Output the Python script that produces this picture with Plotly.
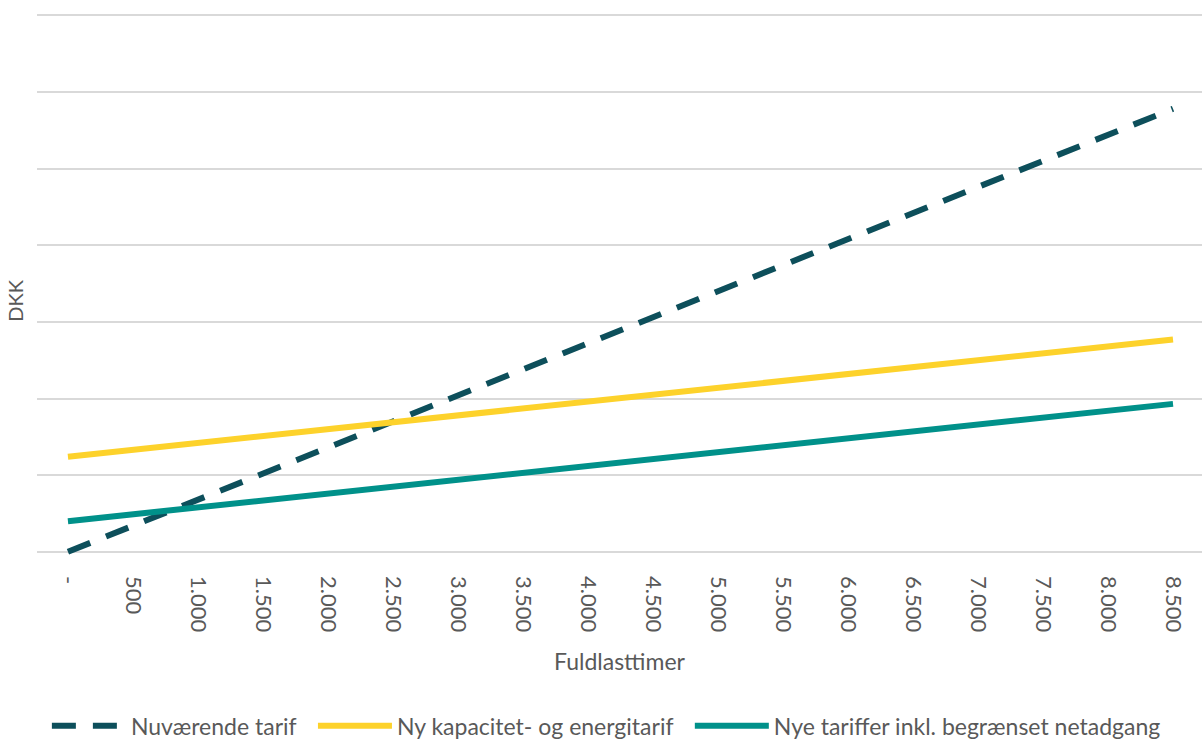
import plotly.graph_objects as go

hours = [0, 500, 1000, 1500, 2000, 2500, 3000, 3500, 4000, 4500,
         5000, 5500, 6000, 6500, 7000, 7500, 8000, 8500]
tick_labels = ["-", "500", "1.000", "1.500", "2.000", "2.500", "3.000", "3.500", "4.000",
               "4.500", "5.000", "5.500", "6.000", "6.500", "7.000", "7.500", "8.000", "8.500"]

nuvaerende = [0.00, 0.34, 0.68, 1.02, 1.36, 1.70, 2.04, 2.38, 2.72, 3.06,
              3.40, 3.74, 4.08, 4.42, 4.76, 5.10, 5.44, 5.78]
ny_kapacitet = [1.24, 1.33, 1.42, 1.51, 1.60, 1.69, 1.78, 1.87, 1.96, 2.05,
                2.14, 2.23, 2.32, 2.41, 2.50, 2.59, 2.68, 2.77]
nye_tariffer = [0.40, 0.49, 0.58, 0.67, 0.76, 0.85, 0.94, 1.03, 1.12, 1.21,
                1.30, 1.39, 1.48, 1.57, 1.66, 1.75, 1.84, 1.93]

series_names = ["Nuværende tarif", "Ny kapacitet- og energitarif",
                "Nye tariffer inkl. begrænset netadgang"]

FONT = "Lato"
GREY = "#595959"
FS = 23
PAD = "\u00a0\u00a0"

fig = go.Figure()
fig.add_trace(go.Scatter(x=hours, y=nuvaerende, mode="lines", name=series_names[0] + PAD,
                         line=dict(color="#0D4F5B", width=6, dash="24px,17px")))
fig.add_trace(go.Scatter(x=hours, y=ny_kapacitet, mode="lines", name=series_names[1] + PAD,
                         line=dict(color="#FDD22B", width=6)))
fig.add_trace(go.Scatter(x=hours, y=nye_tariffer, mode="lines", name=series_names[2],
                         line=dict(color="#00918A", width=6)))

fig.update_layout(
    width=1202, height=742,
    margin=dict(l=37, r=0, t=13, b=181),
    paper_bgcolor="white", plot_bgcolor="white",
    font=dict(family=FONT, size=FS, color=GREY),
    showlegend=True,
    legend=dict(orientation="h", xref="container", yref="container",
                x=0.039, xanchor="left", y=0.022, yanchor="middle",
                font=dict(family=FONT, size=FS, color=GREY), itemwidth=74,
                traceorder="normal"),
    xaxis=dict(range=[-238, 8723], tickmode="array", tickvals=hours, ticktext=tick_labels,
               tickangle=90, showgrid=False, zeroline=False, showline=False,
               automargin=False, ticklabelstandoff=14,
               tickfont=dict(family=FONT, size=22, color=GREY),
               title=dict(text="Fuldlasttimer", standoff=22,
                          font=dict(family=FONT, size=FS, color=GREY))),
    yaxis=dict(range=[-0.12, 7.03], dtick=1, tick0=0, showgrid=True, gridcolor="#D9D9D9",
               gridwidth=2, zeroline=False, showticklabels=False, automargin=False),
    annotations=[dict(text="DKK", textangle=-90, xref="paper", yref="paper",
                      x=-0.0184, y=0.474, xanchor="center", yanchor="middle",
                      showarrow=False, font=dict(family=FONT, size=20, color=GREY))],
)

fig.write_html("out.html", config={"displayModeBar": False},
               post_script="document.body.style.margin='0px';document.body.style.overflow='hidden';")
